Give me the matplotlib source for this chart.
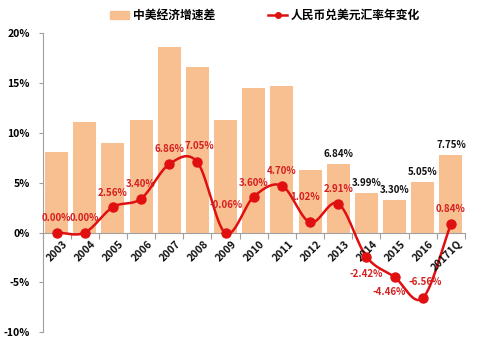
import numpy as np
import matplotlib.pyplot as plt
from matplotlib.patches import Patch
from matplotlib.lines import Line2D

plt.rcParams['font.family'] = ['Noto Sans CJK SC', 'DejaVu Sans']

years = ['2003', '2004', '2005', '2006', '2007', '2008', '2009', '2010',
         '2011', '2012', '2013', '2014', '2015', '2016', '20171Q']
gdp_gap = [8.1, 11.1, 9.0, 11.3, 18.6, 16.6, 11.3, 14.5,
           14.7, 6.3, 6.84, 3.99, 3.30, 5.05, 7.75]
fx_change = [0.00, 0.00, 2.56, 3.40, 6.86, 7.05, -0.06, 3.60,
             4.70, 1.02, 2.91, -2.42, -4.46, -6.56, 0.84]

# pixel offsets for the red labels on the line
fx_offsets = [(0, 15), (0, 15), (0, 14), (0, 15), (0, 15), (2, 16), (0, 28),
              (0, 14), (0, 15), (-5, 25), (0, 15), (0, -17), (-5, -15),
              (2, 16), (0, 15)]
bar_label_start = 10  # values printed above bars from 2013 on

bar_color = '#F8C091'
line_color = '#E01010'


def catmull_rom(x, y, n=30):
    # smooth curve through every point, like a spreadsheet "smoothed line"
    px = np.concatenate([[2 * x[0] - x[1]], x, [2 * x[-1] - x[-2]]])
    py = np.concatenate([[2 * y[0] - y[1]], y, [2 * y[-1] - y[-2]]])
    xs, ys = [], []
    t = np.linspace(0, 1, n, endpoint=False)
    for i in range(1, len(px) - 2):
        for p, out in ((px, xs), (py, ys)):
            p0, p1, p2, p3 = p[i - 1], p[i], p[i + 1], p[i + 2]
            out.extend(0.5 * (2 * p1 + (-p0 + p2) * t
                              + (2 * p0 - 5 * p1 + 4 * p2 - p3) * t ** 2
                              + (-p0 + 3 * p1 - 3 * p2 + p3) * t ** 3))
    xs.append(x[-1])
    ys.append(y[-1])
    return np.array(xs), np.array(ys)


fig = plt.figure(figsize=(5.0, 3.48), dpi=100)
ax = fig.add_axes([0.085, 0.045, 0.845, 0.86])

x = np.arange(len(years))
ax.bar(x, gdp_gap, width=0.82, color=bar_color, zorder=1)

sx, sy = catmull_rom(x.astype(float), np.array(fx_change, dtype=float))
ax.plot(sx, sy, color=line_color, lw=1.8, zorder=3)
ax.plot(x, fx_change, 'o', color=line_color, ms=6.5, zorder=4)

for i, v in enumerate(fx_change):
    ax.annotate(f'{v:.2f}%', (x[i], v), xytext=fx_offsets[i],
                textcoords='offset pixels', ha='center', va='center',
                fontsize=7, fontweight='bold', color='#D42020', zorder=5)

for i in range(bar_label_start, len(years)):
    ax.annotate(f'{gdp_gap[i]:.2f}%', (x[i], gdp_gap[i]), xytext=(0, 10),
                textcoords='offset pixels', ha='center', va='center',
                fontsize=7, fontweight='bold', color='#111111', zorder=5)

ax.set_xlim(-0.5, len(years) - 0.5)
ax.set_ylim(-10, 20)
ax.set_yticks(range(-10, 21, 5))
ax.set_yticklabels([f'{t}%' for t in range(-10, 21, 5)],
                   fontsize=7.5, fontweight='bold')

ax.spines['top'].set_visible(False)
ax.spines['right'].set_visible(False)
ax.spines['left'].set_color('#A0A0A0')
ax.spines['bottom'].set_position(('data', 0))
ax.spines['bottom'].set_color('#A0A0A0')
ax.tick_params(axis='y', length=3, color='#A0A0A0', pad=6)

# ticks between categories on the zero line, labels rotated under each bar
ax.set_xticks(np.arange(-0.5, len(years), 1.0), minor=False)
ax.set_xticklabels([])
ax.tick_params(axis='x', length=4, color='#A0A0A0', direction='out')
for i, lab in enumerate(years):
    ax.annotate(lab, (x[i], 0), xytext=(6, -6), textcoords='offset pixels',
                ha='right', va='top', rotation=45, rotation_mode='anchor',
                fontsize=7.5, fontweight='bold', color='#111111')

handles = [Patch(color=bar_color, label='中美经济增速差'),
           Line2D([0], [0], color=line_color, lw=1.8, marker='o', ms=4,
                  label='人民币兑美元汇率年变化')]
fig.legend(handles=handles, loc='center', bbox_to_anchor=(0.53, 0.955),
           ncol=2, frameon=False, columnspacing=4.5,
           handlelength=1.6, handletextpad=0.3,
           prop={'weight': 'bold', 'size': 8.5})

fig.savefig('out.png', dpi=100)
